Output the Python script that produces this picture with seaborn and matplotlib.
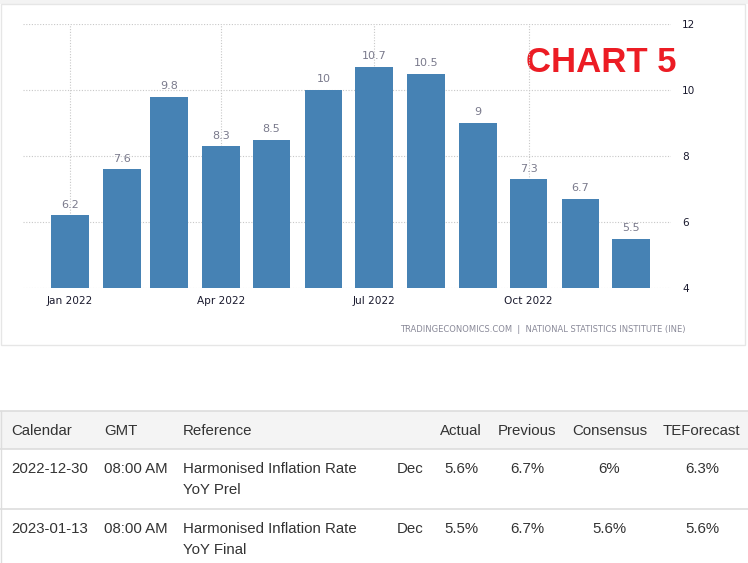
import numpy as np
import pandas as pd
import matplotlib
matplotlib.use("Agg")
import matplotlib.pyplot as plt
import matplotlib.dates as mdates
from matplotlib.patches import Rectangle
from matplotlib.lines import Line2D
import seaborn as sns

# ---- data ----
months = ["2022-01-01", "2022-02-01", "2022-03-01", "2022-04-01", "2022-05-01", "2022-06-01",
          "2022-07-01", "2022-08-01", "2022-09-01", "2022-10-01", "2022-11-01", "2022-12-01"]
values = [6.2, 7.6, 9.8, 8.3, 8.5, 10, 10.7, 10.5, 9, 7.3, 6.7, 5.5]
tick_dates = ["2022-01-01", "2022-04-01", "2022-07-01", "2022-10-01"]
tick_labels = ["Jan 2022", "Apr 2022", "Jul 2022", "Oct 2022"]
y_ticks = [4, 6, 8, 10, 12]

table_headers = ["Calendar", "GMT", "Reference", "", "Actual", "Previous", "Consensus", "TEForecast"]
row_dates = ["2022-12-30", "2023-01-13"]
row_times = ["08:00 AM", "08:00 AM"]
row_refs = [["Harmonised Inflation Rate", "YoY Prel"], ["Harmonised Inflation Rate", "YoY Final"]]
row_periods = ["Dec", "Dec"]
row_actual = ["5.6%", "5.5%"]
row_previous = ["6.7%", "6.7%"]
row_consensus = ["6%", "5.6%"]
row_teforecast = ["6.3%", "5.6%"]

W, H = 748, 563
sns.set_theme(style="white")
plt.rcParams["font.family"] = ["DejaVu Sans"]

fig = plt.figure(figsize=(W / 100, H / 100), dpi=100)
fig.patch.set_facecolor("white")

# overlay in pixel coordinates for panel and table
bg = fig.add_axes([0, 0, 1, 1], zorder=0)
bg.set_xlim(0, W)
bg.set_ylim(H, 0)
bg.axis("off")

# chart panel border
bg.add_patch(Rectangle((0, 0), W, 4, facecolor="#f3f3f3", edgecolor="none"))
bg.add_patch(Rectangle((1, 4), 744, 341, facecolor="white", edgecolor="#e6e6e6", lw=1))

# ---- chart ----
def px2fig(x0, y0, x1, y1):
    return [x0 / W, 1 - y1 / H, (x1 - x0) / W, (y1 - y0) / H]

ax = fig.add_axes(px2fig(23, 24, 671, 288), zorder=2)
ax.set_facecolor("none")

df = pd.DataFrame({"x": mdates.date2num(pd.to_datetime(months)), "value": values})
sns.barplot(data=df, x="x", y="value", native_scale=True, width=0.8, color="#4682b4",
            saturation=1, errorbar=None, ax=ax, zorder=3, linewidth=0)

jan = mdates.date2num(pd.Timestamp("2022-01-01"))
ppd = 1.6796
ax.set_xlim(jan - 47 / ppd, jan + (671 - 70) / ppd)
ax.set_ylim(4, 12)

ax.set_xticks(mdates.date2num(pd.to_datetime(tick_dates)))
ax.set_xticklabels(tick_labels, fontsize=7.6, color="#1a1a2e")
ax.set_yticks(y_ticks)
ax.set_yticklabels([str(v) for v in y_ticks], fontsize=7.6, color="#1a1a2e")
ax.yaxis.tick_right()
ax.tick_params(axis="both", length=0, pad=6)
ax.tick_params(axis="y", pad=8)
ax.set_xlabel("")
ax.set_ylabel("")
for s in ax.spines.values():
    s.set_visible(False)
ax.grid(True, axis="both", linestyle=(0, (1, 1.5)), color="#c8c8c8", lw=0.8, zorder=0)
ax.set_axisbelow(True)

ax.bar_label(ax.containers[0], fmt="%g", padding=4, fontsize=8, color="#7a7a8c")

bg.text(677, 62, "CHART 5", ha="right", va="center",
        fontsize=25, fontweight="bold", color="#ec1c24", family="Liberation Sans")

bg.text(686, 330, "TRADINGECONOMICS.COM  |  NATIONAL STATISTICS INSTITUTE (INE)", ha="right",
        va="center", fontsize=6, color="#8a8a99")

# ---- table ----
tf = ["Liberation Sans", "DejaVu Sans"]
tc = "#333333"
fs = 10.8
bg.add_patch(Rectangle((0, 411), W, 38, facecolor="#f4f4f4", edgecolor="none"))
for yy in (411, 449, 509):
    bg.add_line(Line2D([0, W], [yy, yy], color="#dddddd", lw=1.2))
bg.add_line(Line2D([0.5, 0.5], [411, H], color="#dddddd", lw=1))

hx = [11, 104, 183, None, 440, 498, 572, 663]
for x, h in zip(hx, table_headers):
    if h:
        bg.text(x, 431, h, ha="left", va="center", fontsize=fs, color=tc, family=tf)

row_y = [469, 529]
for i in range(2):
    y = row_y[i]
    bg.text(11, y, row_dates[i], ha="left", va="center", fontsize=fs, color=tc, family=tf)
    bg.text(104, y, row_times[i], ha="left", va="center", fontsize=fs, color=tc, family=tf)
    for k, line in enumerate(row_refs[i]):
        bg.text(183, y + 21 * k, line, ha="left", va="center", fontsize=fs, color=tc, family=tf)
    bg.text(424, y, row_periods[i], ha="right", va="center", fontsize=fs, color=tc, family=tf)
    bg.text(461, y, row_actual[i], ha="center", va="center", fontsize=fs, color=tc, family=tf)
    bg.text(527, y, row_previous[i], ha="center", va="center", fontsize=fs, color=tc, family=tf)
    bg.text(609, y, row_consensus[i], ha="center", va="center", fontsize=fs, color=tc, family=tf)
    bg.text(702, y, row_teforecast[i], ha="center", va="center", fontsize=fs, color=tc, family=tf)

fig.savefig("out.png", dpi=100, facecolor="white")
